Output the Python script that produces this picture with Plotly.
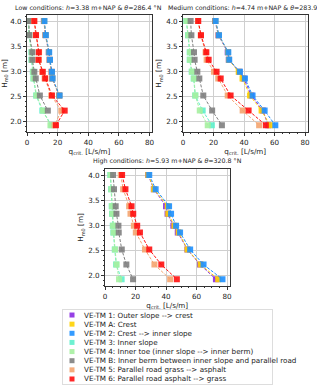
import plotly.graph_objects as go

# ---------------- data ----------------
H = [4.00, 3.72, 3.38, 3.23, 2.99, 2.86, 2.52, 2.22, 1.93]

names = [
    "VE-TM 1: Outer slope --> crest",
    "VE-TM A: Crest",
    "VE-TM 2: Crest --> inner slope",
    "VE-TM 3: Inner slope",
    "VE-TM 4: Inner toe (inner slope --> inner berm)",
    "VE-TM B: Inner berm between inner slope and parallel road",
    "VE-TM 5: Parallel road grass --> asphalt",
    "VE-TM 6: Parallel road asphalt --> grass",
]
colors = ["#8a2be2", "#ffd200", "#1e90ff", "#5ef0cc", "#a6f0a0", "#808080", "#f4a46f", "#ff1010"]

low = [
    [11.0, 12.0, 14.2, 14.7, 16.0, 16.4, 21.0],
    [11.2, 12.1, 14.3, 14.8, 16.1, 16.5, 21.1],
    [11.4, 12.3, 14.5, 15.0, 16.3, 16.7, 21.3],
    [0.8, 1.2, 2.9, 2.9, 3.8, 4.2, 6.0, 10.0, 16.0],
    [0.9, 1.3, 3.1, 3.1, 4.0, 4.4, 6.2, 10.5, 15.3],
    [1.2, 1.6, 3.5, 3.5, 4.8, 5.7, 8.4, 13.6],
    [4.6, 5.7, 7.9, 7.7, 10.0, 11.5, 15.8, 22.4, 18.0],
    [4.8, 5.9, 7.7, 7.5, 10.3, 11.9, 16.3, 24.6, 18.9],
]
medium = [
    [21.0, 23.2, 29.3, 30.0, 36.9, 39.8, 44.8, 52.3, 55.9],
    [21.2, 23.4, 29.5, 30.1, 36.5, 39.0, 43.9, 51.5, 57.0],
    [21.4, 23.6, 29.7, 30.3, 37.3, 40.6, 45.6, 53.5, 60.5],
    [2.2, 3.3, 4.4, 4.4, 5.7, 7.0, 8.0, 12.9, 18.9],
    [2.4, 3.5, 4.6, 4.6, 5.9, 7.2, 8.1, 11.0, 16.2],
    [5.0, 5.5, 7.2, 7.6, 9.4, 10.7, 13.3, 19.1, 25.5],
    [9.8, 11.6, 14.8, 15.5, 20.3, 23.1, 29.3, 39.1, 49.9],
    [10.0, 11.8, 15.3, 16.8, 22.0, 24.7, 31.2, 43.0, 54.3],
]
high = [
    [28.3, 32.0, 40.0, 41.0, 44.8, 47.7, 54.0, 62.3, 72.7],
    [28.4, 32.1, 41.1, 41.5, 45.5, 48.3, 54.1, 62.7, 74.2],
    [29.0, 33.2, 42.0, 43.3, 46.6, 49.2, 55.8, 64.6, 77.0],
    [3.5, 4.0, 4.4, 4.6, 5.1, 5.5, 6.4, 7.3, 10.9],
    [3.7, 4.2, 4.6, 4.8, 5.3, 5.7, 6.6, 7.6, 9.2],
    [5.3, 5.9, 7.0, 7.5, 8.8, 9.0, 11.0, 14.0, 18.4],
    [10.3, 11.9, 15.8, 16.7, 18.9, 20.2, 26.2, 32.4, 42.7],
    [11.2, 13.4, 17.4, 18.5, 21.1, 22.9, 29.0, 36.9, 47.1],
]

titles = [
    "Low conditions: <i>h</i>=3.38 m+NAP & <i>θ</i>=286.4 °N",
    "Medium conditions: <i>h</i>=4.74 m+NAP & <i>θ</i>=283.9 °N",
    "High conditions: <i>h</i>=5.93 m+NAP & <i>θ</i>=320.8 °N",
]
xticks = [0, 20, 40, 60, 80]
yticks = [2.0, 2.5, 3.0, 3.5, 4.0]

# ---------------- layout constants ----------------
W, HGT = 317, 385
FONT = "DejaVu Sans"
FS = 7.2
TFS = 6.3

def xd(a, b):
    return [a / W, b / W]

def yd(top, bot):
    return [1 - bot / HGT, 1 - top / HGT]

panels = [
    dict(x=xd(27, 152), y=yd(15, 132), data=low, tx=88),
    dict(x=xd(183, 307.5), y=yd(15, 132), data=medium, tx=247),
    dict(x=xd(105, 229.5), y=yd(169, 286), data=high, tx=167),
]

fig = go.Figure()
annotations = []

for i, p in enumerate(panels):
    ax = "" if i == 0 else str(i + 1)
    for k, vals in enumerate(p["data"]):
        fig.add_trace(go.Scatter(
            x=vals, y=H[:len(vals)], mode="lines+markers",
            line=dict(color=colors[k], width=1, dash="3px,1.6px"),
            marker=dict(symbol="square", size=6, color=colors[k], opacity=0.9),
            xaxis="x" + ax, yaxis="y" + ax, showlegend=False, name=names[k],
        ))
    common = dict(showline=True, mirror=True, linecolor="#333", linewidth=0.8,
                  showgrid=True, gridcolor="#cfcfcf", gridwidth=0.8,
                  ticks="outside", ticklen=3, tickwidth=0.8, tickcolor="#333",
                  tickfont=dict(size=FS, family=FONT, color="#222"),
                  zeroline=False, automargin=False)
    fig.layout["xaxis" + ax] = dict(
        domain=p["x"], anchor="y" + ax, range=[0, 81.6], tickvals=xticks,
        ticktext=[str(t) for t in xticks],
        minor=dict(ticks="outside", ticklen=1.5, tickwidth=0.6, tickcolor="#333", dtick=5, showgrid=False),
        title=dict(text="q<sub>crit.</sub> [L/s/m]", font=dict(size=FS, family=FONT, color="#222"), standoff=2),
        **common)
    fig.layout["yaxis" + ax] = dict(
        domain=p["y"], anchor="x" + ax, range=[1.795, 4.12], tickvals=yticks,
        ticktext=["%.1f" % t for t in yticks],
        minor=dict(ticks="outside", ticklen=1.5, tickwidth=0.6, tickcolor="#333", dtick=0.1, tick0=0, showgrid=False),
        title=dict(text="H<sub>m0</sub> [m]", font=dict(size=FS, family=FONT, color="#222"), standoff=3),
        **common)
    annotations.append(dict(
        text=titles[i], xref="paper", yref="paper",
        x=p["tx"] / W, y=p["y"][1] + 3 / HGT,
        xanchor="center", yanchor="bottom", showarrow=False, borderpad=0,
        font=dict(size=TFS, family=FONT, color="#222"),
    ))

# ---------------- legend (hand-built panel) ----------------
rows = list(range(len(names)))
fig.add_trace(go.Scatter(
    x=[9] * len(names), y=rows, mode="markers",
    marker=dict(symbol="square", size=5, color=colors, opacity=0.9),
    xaxis="x4", yaxis="y4", showlegend=False, hoverinfo="skip",
))
for k, n in enumerate(names):
    annotations.append(dict(
        text=n, xref="x4", yref="y4", x=19, y=k, xanchor="left", yanchor="middle",
        showarrow=False, font=dict(size=FS, family=FONT, color="#222"),
    ))
fig.layout["xaxis4"] = dict(domain=xd(63, 272), anchor="y4", range=[0, 209],
                            showline=True, mirror=True, linecolor="#dddddd", linewidth=0.8,
                            showgrid=False, zeroline=False, showticklabels=False, ticks="",
                            fixedrange=True)
fig.layout["yaxis4"] = dict(domain=yd(310, 384), anchor="x4", range=[7.55, -0.55],
                            showline=True, mirror=True, linecolor="#dddddd", linewidth=0.8,
                            showgrid=False, zeroline=False, showticklabels=False, ticks="",
                            fixedrange=True)

fig.update_layout(
    width=W, height=HGT, margin=dict(l=0, r=0, t=0, b=0),
    paper_bgcolor="white", plot_bgcolor="white",
    showlegend=False, annotations=annotations,
    font=dict(family=FONT, size=FS, color="#222"),
)

fig.write_html("out.html")
